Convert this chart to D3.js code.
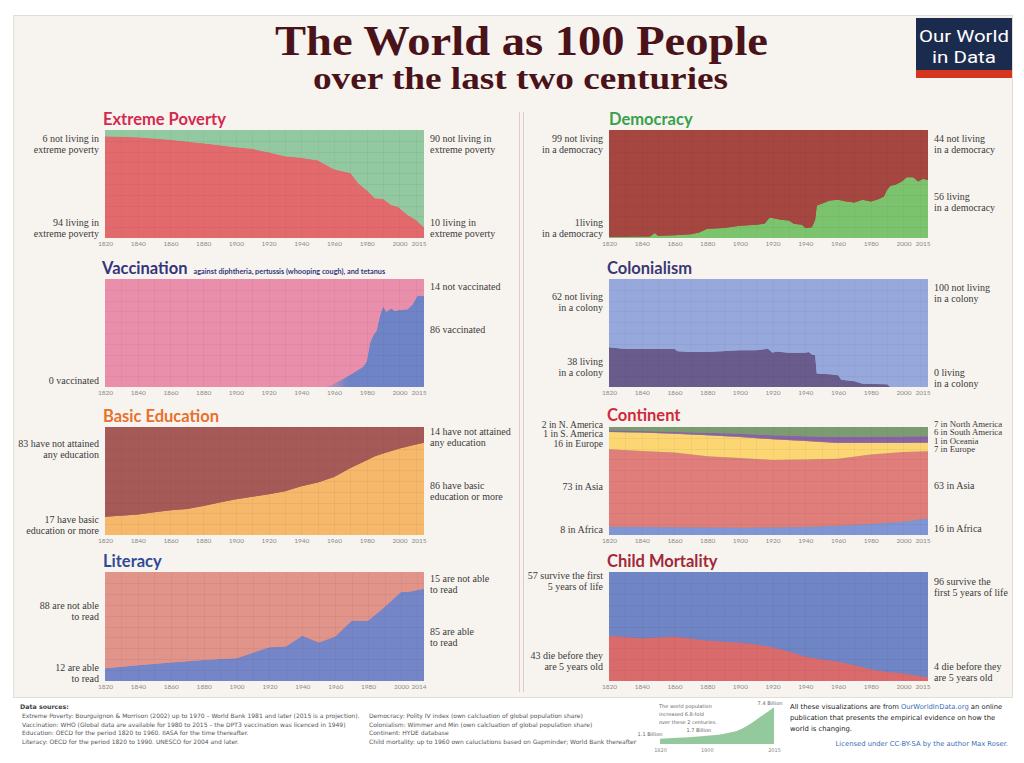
<!DOCTYPE html>
<html><head><meta charset="utf-8">
<script src="https://cdn.jsdelivr.net/npm/d3@7"></script>
<style>html,body{margin:0;padding:0;background:#fff;} svg{display:block;}</style>
</head><body>
<svg id="c" width="1024" height="763"></svg>
<script>
// ---------------- DATA ----------------
const povertyYears = [1820,1840,1860,1880,1900,1910,1920,1930,1940,1950,1960,1970,1975,1981,1985,1990,1995,1999,2005,2010,2015];
const povertyShare = [94.2,93.2,91.0,87.8,84.0,82.6,79.5,75.8,74.3,71.9,63.6,60.2,50.5,42.8,36.7,36.0,30.6,29.0,21.4,16.8,9.8];

const democracyYears = [1820,1840,1845,1848,1850,1860,1870,1875,1880,1890,1900,1910,1915,1918,1920,1925,1930,1933,1938,1940,1944,1946,1947,1950,1955,1960,1965,1970,1975,1980,1985,1988,1990,1992,1995,1999,2002,2006,2009,2012,2015];
const democracyShare = [1,1.5,1.5,4.6,2,2.5,3.4,5,8.6,9.2,11.4,12.3,13.2,18.5,18.5,17,16.3,13.2,12.3,9.2,10,17,30,31.7,34.8,35.4,33.8,32.9,35.4,33.8,36,38.5,44.6,48.3,49.2,52.3,56.3,56.3,52.3,54.8,53.8];

const vaccYears = [1820,1955,1960,1970,1978,1980,1982,1984,1986,1988,1990,1992,1995,1997,2000,2005,2008,2011,2015];
const vaccShare = [0,0,3,11.4,19,23.8,40.7,48,52,65.4,74.7,69.4,73,70.4,71.3,72,76.5,84.6,84.6];

const colonyYears = [1820,1830,1860,1862,1870,1880,1900,1910,1915,1917,1920,1922,1930,1940,1942,1944,1946,1947,1955,1960,1962,1970,1975,1990,1992,2015];
const colonyShare = [36.8,35.3,35.3,33.1,32.5,32.5,34,34,35,35.6,31.6,32.8,31.6,31.6,32.5,30,29.4,12.4,11.8,10.8,6.8,5.3,3.1,2.5,0,0];

const educYears = [1820,1840,1850,1860,1870,1880,1890,1900,1910,1920,1930,1940,1950,1960,1970,1980,1985,1990,2000,2010,2015];
const educShare = [16.9,19,21,23,24,26.8,30,33.2,35.4,37.8,40.6,45.2,48.6,53.8,62,69.2,73,75.4,80,83.7,85.5];

const contYears = [1820,1840,1860,1880,1900,1920,1940,1960,1980,2000,2015];
const contAfrica = [7.7,7.5,7.2,7.0,6.8,7.0,7.4,8.6,10.2,12.3,15.4];
const contAsia = [71.7,70.3,69.1,65.9,64.6,62.5,62.4,61.9,64.3,64.6,62.1];
const contEurope = [16.0,17.0,17.5,19.4,19.4,19.1,17.3,14.7,10.7,8.3,8.0];
const contOceania = [0.2,0.2,0.3,0.4,0.4,0.5,0.5,0.5,0.5,0.5,0.5];
const contSAmerica = [1.3,1.3,1.3,1.9,2.6,3.2,3.8,5.1,5.1,5.4,5.4];

const litYears = [1820,1840,1860,1880,1890,1900,1910,1920,1930,1940,1950,1960,1970,1980,1990,2000,2004,2014];
const litShare = [11.7,14.4,16.9,19.3,20.2,20.9,26,31,31.6,41.4,35.3,40.8,55.2,55.2,67.8,81.6,81.6,84.7];

const mortYears = [1820,1840,1860,1880,1890,1900,1910,1920,1930,1940,1950,1960,1970,1980,1990,2000,2015];
const mortShare = [41.7,39.3,40.8,37.1,36.2,35.3,33.7,31,27,22.4,19.9,17.8,14.7,10.7,8.6,7,3.4];

const popYears = [1820,1850,1870,1900,1910,1920,1930,1940,1950,1960,1970,1980,1990,2000,2010,2015];
const popBillions = [1.04,1.26,1.33,1.65,1.75,1.86,2.07,2.3,2.53,3.03,3.7,4.46,5.3,6.1,6.9,7.35];

const tickYears = [1820,1840,1860,1880,1900,1920,1940,1960,1980,2000];

// ---------------- DRAWING ----------------
const svg = d3.select('#c');
const SERIF = "'Liberation Serif','Times New Roman',serif";
const SANS = "Lato,'Open Sans',sans-serif";
const SMALL = "'DejaVu Sans',Verdana,sans-serif";

// frame
svg.append('rect').attr('x',13.5).attr('y',15.5).attr('width',999).attr('height',682)
  .attr('fill','#f7f4ef').attr('stroke','#e2ddd6');

// title
svg.append('text').attr('x',521.5).attr('y',55).attr('text-anchor','middle')
  .attr('font-family',SERIF).attr('font-weight','bold').attr('font-size',43)
  .attr('textLength',493).attr('lengthAdjust','spacingAndGlyphs')
  .attr('fill','#4a1219').text('The World as 100 People');
svg.append('text').attr('x',520.5).attr('y',89).attr('text-anchor','middle')
  .attr('font-family',SERIF).attr('font-weight','bold').attr('font-size',32)
  .attr('textLength',415).attr('lengthAdjust','spacingAndGlyphs')
  .attr('fill','#4a1219').text('over the last two centuries');

// logo
const logo = svg.append('g');
logo.append('rect').attr('x',916).attr('y',18).attr('width',96).attr('height',60).attr('fill','#1b2b4d');
logo.append('rect').attr('x',916).attr('y',70).attr('width',96).attr('height',8).attr('fill','#d5351f');
logo.append('text').attr('x',964).attr('y',42).attr('text-anchor','middle').attr('fill','#fff')
  .attr('font-family',"'Liberation Sans Narrow','Roboto',sans-serif").attr('font-size',17)
  .attr('textLength',90).attr('lengthAdjust','spacingAndGlyphs').text('Our World');
logo.append('text').attr('x',964).attr('y',63).attr('text-anchor','middle').attr('fill','#fff')
  .attr('font-family',"'Liberation Sans Narrow','Roboto',sans-serif").attr('font-size',17)
  .attr('textLength',64).attr('lengthAdjust','spacingAndGlyphs').text('in Data');

// divider
[519.5,523.5].forEach(xx=>svg.append('line').attr('x1',xx).attr('x2',xx).attr('y1',112).attr('y2',692)
  .attr('stroke','#dccbc7').attr('stroke-width',1));

const L = [105,424], R = [609,928];
const panels = [
 {title:'Extreme Poverty', tcol:'#d42a4e', tx:103, ty:125, xr:L, yr:[130,238], end:2015,
  years:povertyYears, series:[povertyShare], fills:['#e36a6c','#93c9a0'],
  left:[{y:142,lines:['6 not living in','extreme poverty']},{y:226,lines:['94 living in','extreme poverty']}],
  right:[{y:142,lines:['90 not living in','extreme poverty']},{y:226,lines:['10 living in','extreme poverty']}]},
 {title:'Democracy', tcol:'#39a04c', tx:609, ty:125, xr:R, yr:[130,238], end:2015,
  years:democracyYears, series:[democracyShare], fills:['#7cc36d','#a64641'],
  left:[{y:142,lines:['99 not living','in a democracy']},{y:226,lines:['1living','in a democracy']}],
  right:[{y:142,lines:['44 not living','in a democracy']},{y:200,lines:['56 living','in a democracy']}]},
 {title:'Vaccination', sub:'against diphtheria, pertussis (whooping cough), and tetanus', tcol:'#36357a', tx:102, ty:274, xr:L, yr:[279,387], end:2015,
  years:vaccYears, series:[vaccShare], fills:['url(#vaccGrad)','#ea8fab'],
  left:[{y:384,lines:['0 vaccinated']}],
  right:[{y:290,lines:['14 not vaccinated']},{y:333,lines:['86 vaccinated']}]},
 {title:'Colonialism', tcol:'#3b3875', tx:607, ty:274, xr:R, yr:[279,387], end:2015,
  years:colonyYears, series:[colonyShare], fills:['#6a5b8d','#97a9dc'],
  left:[{y:300,lines:['62 not living','in a colony']},{y:365,lines:['38 living','in a colony']}],
  right:[{y:291,lines:['100 not living','in a colony']},{y:376,lines:['0 living','in a colony']}]},
 {title:'Basic Education', tcol:'#e8702c', tx:103, ty:422, xr:L, yr:[427,535], end:2015,
  years:educYears, series:[educShare], fills:['#f6b96b','#a65a58'],
  left:[{y:447,lines:['83 have not attained','any education']},{y:523,lines:['17 have basic','education or more']}],
  right:[{y:435,lines:['14 have not attained','any education']},{y:489,lines:['86 have basic','education or more']}]},
 {title:'Continent', tcol:'#d2283a', tx:607, ty:421, xr:R, yr:[427,535], end:2015,
  years:contYears, series:[contAfrica,contAsia,contEurope,contOceania,contSAmerica],
  fills:['#7f95d4','#e07e7b','#fcd672','#9a6aa6','#8c62a6','#7c9b72'],
  left:[{y:428,lines:['2 in N. America','1 in S. America','16 in Europe'],lh:9.3,fs:9.6},{y:490,lines:['73 in Asia']},{y:533,lines:['8 in Africa']}],
  right:[{y:426.5,lines:['7 in North America','6 in South America','1 in Oceania','7 in Europe'],lh:8.5,fs:8.8},{y:489,lines:['63 in Asia']},{y:532,lines:['16 in Africa']}]},
 {title:'Literacy', tcol:'#2f4b98', tx:103, ty:567, xr:L, yr:[572,681], end:2014,
  years:litYears, series:[litShare], fills:['#7486c7','#e0948a'],
  left:[{y:609,lines:['88 are not able','to read']},{y:671,lines:['12 are able','to read']}],
  right:[{y:582,lines:['15 are not able','to read']},{y:635,lines:['85 are able','to read']}]},
 {title:'Child Mortality', tcol:'#a3283a', tx:607, ty:567, xr:R, yr:[572,681], end:2015,
  years:mortYears, series:[mortShare], fills:['#da6b6c','#6f85c5'],
  left:[{y:579,lines:['57 survive the first','5 years of life']},{y:659,lines:['43 die before they','are 5 years old']}],
  right:[{y:585,lines:['96 survive the','first 5 years of life']},{y:670,lines:['4 die before they','are 5 years old']}]}
];

const defs = svg.append('defs');

function drawPanel(p){
  const x = d3.scaleLinear().domain([p.years[0], p.end]).range(p.xr);
  const y = d3.scaleLinear().domain([0,100]).range([p.yr[1], p.yr[0]]);
  const keys = p.series.map((_,i)=>'s'+i).concat(['rest']);
  const rows = p.years.map((yr,i)=>{
    const r = {year:yr}; let s = 0;
    p.series.forEach((arr,j)=>{ r['s'+j]=arr[i]; s+=arr[i]; });
    r.rest = Math.max(0,100-s); return r;
  });
  const stacked = d3.stack().keys(keys)(rows);
  const g = svg.append('g');
  if (p.title==='Vaccination'){
    const gr = defs.append('linearGradient').attr('id','vaccGrad').attr('gradientUnits','userSpaceOnUse')
      .attr('x1',x(1953)).attr('x2',x(1968)).attr('y1',0).attr('y2',0);
    gr.append('stop').attr('offset',0).attr('stop-color','#6f84c6').attr('stop-opacity',0);
    gr.append('stop').attr('offset',1).attr('stop-color','#6f84c6').attr('stop-opacity',1);
  }
  g.append('rect').attr('x',p.xr[0]).attr('y',p.yr[0]).attr('width',p.xr[1]-p.xr[0]).attr('height',p.yr[1]-p.yr[0])
    .attr('fill',p.fills[p.fills.length-1]);
  const area = d3.area().x(d=>x(d.data.year)).y0(d=>y(d[0])).y1(d=>y(d[1]));
  g.selectAll('path.a').data(stacked).join('path').attr('class','a')
    .attr('d',area).attr('fill',(d,i)=>p.fills[i]);
  // faint grid
  const gy = d3.range(10,100,10), gx = d3.range(1830,p.end,10);
  g.selectAll('line.h').data(gy).join('line').attr('class','h')
    .attr('x1',p.xr[0]).attr('x2',p.xr[1]).attr('y1',d=>Math.round(y(d))+0.5).attr('y2',d=>Math.round(y(d))+0.5)
    .attr('stroke','rgba(60,30,30,0.07)').attr('stroke-width',0.8);
  g.selectAll('line.v').data(gx).join('line').attr('class','v')
    .attr('y1',p.yr[0]).attr('y2',p.yr[1]).attr('x1',d=>Math.round(x(d))+0.5).attr('x2',d=>Math.round(x(d))+0.5)
    .attr('stroke','rgba(60,30,30,0.05)').attr('stroke-width',0.8);
  // axis
  const ax = g.append('g').attr('transform',`translate(0,${p.yr[1]})`)
    .call(d3.axisBottom(x).tickValues(tickYears.concat([p.end])).tickSize(0).tickPadding(3).tickFormat(d3.format('d')));
  ax.select('.domain').remove();
  ax.selectAll('text').attr('font-family',SANS).attr('font-size',6.5).attr('fill','#8a8a8a');
  ax.selectAll('.tick:last-of-type text').attr('text-anchor','end').attr('dx',2);
  // title
  const t = g.append('text').attr('x',p.tx).attr('y',p.ty).attr('font-family',SANS).attr('font-weight','bold')
    .attr('font-size',16.5).attr('fill',p.tcol);
  t.append('tspan').text(p.title);
  if (p.sub) t.append('tspan').attr('dx',6).attr('font-size',7.3).text(p.sub);
  // side labels
  const lab = (arr, xx, anchor) => arr.forEach(b=>{
    const lh = b.lh || 11, fs = b.fs || 10;
    b.lines.forEach((ln,k)=>g.append('text').attr('x',xx).attr('y',b.y+k*lh).attr('text-anchor',anchor)
      .attr('font-family',SERIF).attr('font-size',fs).attr('fill','#3a3a3a').text(ln));
  });
  lab(p.left, p.xr[0]-6, 'end');
  lab(p.right, p.xr[1]+6, 'start');
}
panels.forEach(drawPanel);

// ---------------- FOOTER ----------------
const f = svg.append('g').attr('font-family',SMALL).attr('fill','#555');
f.append('text').attr('x',20).attr('y',709).attr('font-size',6.3).attr('font-weight','bold').attr('fill','#444').text('Data sources:');
const srcL = ['Extreme Poverty: Bourguignon & Morrison (2002) up to 1970 – World Bank 1981 and later (2015 is a projection).',
 'Vaccination: WHO (Global data are available for 1980 to 2015 – the DPT3 vaccination was licenced in 1949)',
 'Education: OECD for the period 1820 to 1960. IIASA for the time thereafter.',
 'Literacy: OECD for the period 1820 to 1990. UNESCO for 2004 and later.'];
const srcR = ['Democracy: Polity IV index (own calcluation of global population share)',
 'Colonialism: Wimmer and Min (own calcluation of global population share)',
 'Continent: HYDE database',
 'Child mortality: up to 1960 own caluclations based on Gapminder; World Bank thereafter'];
srcL.forEach((s,i)=>f.append('text').attr('x',22).attr('y',718+i*8.7).attr('font-size',6).text(s));
srcR.forEach((s,i)=>f.append('text').attr('x',369).attr('y',718+i*8.7).attr('font-size',6).text(s));

// mini population chart
const px = d3.scaleLinear().domain([1820,2015]).range([660,774]);
const py = d3.scaleLinear().domain([0,7.4]).range([744,707]);
svg.append('path').datum(popYears.map((yr,i)=>({yr,v:popBillions[i]})))
  .attr('d',d3.area().x(d=>px(d.yr)).y0(py(0)).y1(d=>py(d.v))).attr('fill','#94c99e');
const mg = svg.append('g').attr('font-family',SMALL).attr('fill','#666').attr('font-size',5);
['The world population','increased 6.8-fold','over these 2 centuries.'].forEach((s,i)=>
  mg.append('text').attr('x',659).attr('y',708+i*8).text(s));
mg.append('text').attr('x',px(2015)-4).attr('y',py(7.4)-2).attr('text-anchor','middle').text('7.4 Billion');
mg.append('text').attr('x',px(1900)-8).attr('y',py(1.7)-4).attr('text-anchor','middle').text('1.7 Billion');
mg.append('text').attr('x',px(1820)-10).attr('y',py(1.1)-3).attr('text-anchor','middle').text('1.1 Billion');
const pax = svg.append('g').attr('transform','translate(0,744)')
  .call(d3.axisBottom(px).tickValues([1820,1900,2015]).tickSize(0).tickPadding(4).tickFormat(d3.format('d')));
pax.select('.domain').remove();
pax.selectAll('text').attr('font-family',SMALL).attr('font-size',5).attr('fill','#888');

const rt = svg.append('g').attr('font-family',SMALL).attr('font-size',6.8).attr('fill','#222');
const l1 = rt.append('text').attr('x',790).attr('y',709);
l1.append('tspan').text('All these visualizations are from ');
l1.append('tspan').attr('fill','#3b6fb6').text('OurWorldInData.org');
l1.append('tspan').text(' an online');
rt.append('text').attr('x',790).attr('y',720).text('publication that presents the empirical evidence on how the');
rt.append('text').attr('x',790).attr('y',731).text('world is changing.');
rt.append('text').attr('x',1008).attr('y',746).attr('text-anchor','end').attr('fill','#3b6fb6').text('Licensed under CC-BY-SA by the author Max Roser.');
</script>
</body></html>
